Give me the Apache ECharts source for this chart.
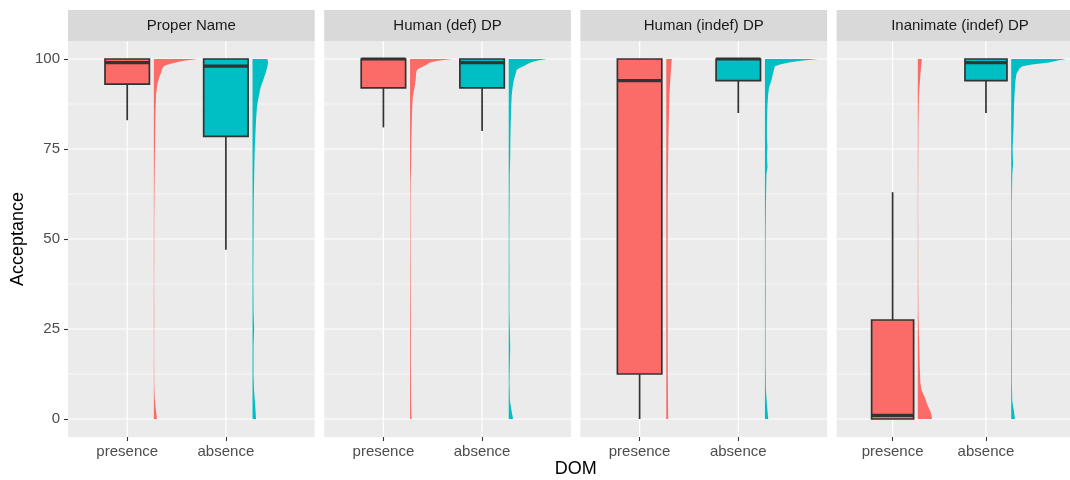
<!DOCTYPE html>
<html><head><meta charset="utf-8">
<script src="https://cdn.jsdelivr.net/npm/echarts@6/dist/echarts.min.js"></script>
<style>html,body{margin:0;padding:0;background:#fff}#c{width:1070px;height:480px}</style>
</head><body><div id="c"></div>
<script>
// ---------- data ----------
const panels = ['Proper Name', 'Human (def) DP', 'Human (indef) DP', 'Inanimate (indef) DP'];
const groups = ['presence', 'absence'];
const yTicks = [0, 25, 50, 75, 100];
const yMinor = [12.5, 37.5, 62.5, 87.5];
const yTitle = 'Acceptance';
const xTitle = 'DOM';
// box stats per panel: [lower whisker, Q1, median, Q3, upper whisker]
const boxPresence = [[83, 93, 99, 100, 100], [81, 92, 100, 100, 100], [0, 12.5, 94, 100, 100], [0, 0, 1, 27.5, 63]];
const boxAbsence  = [[47, 78.5, 98, 100, 100], [80, 92, 99, 100, 100], [85, 94, 100, 100, 100], [85, 94, 99, 100, 100]];
// half-violin density profiles per panel: [acceptance value, relative density]
const violinPresence = [
  [[100,44],[99.5,30],[99,22],[98.5,14],[98,10],[97,8],[96,7],[95,5.5],[93,3.5],[90,2.2],[85,1.6],[75,1.1],[65,0.7],[55,0.4],[45,0.4],[38,0.3],[30,0.4],[20,0.3],[10,0.4],[6,0.8],[3,1.8],[1,2.8],[0,3]],
  [[100,42],[99.5,28],[99,20],[98.3,16],[97.5,10],[97,7],[96,6],[94.5,5.8],[93.5,5.2],[92,4.5],[90,3],[87,2.2],[82,1.7],[77,1.3],[70,1],[66,0.6],[60,0.4],[45,0.5],[35,0.6],[25,0.8],[15,0.8],[5,1],[0,1.5]],
  [[100,5.5],[98,5],[95,4.2],[90,3.2],[80,2.3],[70,1.8],[60,1.5],[40,1.4],[20,1.5],[10,1.6],[0,2]],
  [[100,4.3],[98,3.5],[96,2.8],[93,2],[90,1.2],[80,0.6],[60,0.3],[40,0.4],[30,0.6],[25,1],[20,1.5],[15,2],[10,2.7],[8,4],[6,7.5],[4,10],[3,11.7],[2,13.5],[1,14.5],[0,15]]
];
const violinAbsence = [
  [[100,15],[99,15.5],[98,15],[96,13],[94,10.5],[92,8],[90,6.5],[87,4.5],[83,3.5],[80,3],[75,2.2],[70,1.8],[60,1.2],[50,1],[40,0.8],[30,1],[25,1.6],[20,1],[12,1],[8,1.5],[4,2.6],[1,3.3],[0,3.5]],
  [[100,38],[99.5,28],[99,22],[98.3,17],[97.5,11],[97,8],[96,7],[94,5],[92,3.8],[90,3],[87,2.5],[82,2],[77,1.6],[73,1.5],[68,1],[60,0.8],[50,0.6],[40,0.7],[30,0.6],[20,1.5],[10,0.7],[5,1.2],[2,3],[0,4.3]],
  [[100,53],[99.5,36],[99,24],[98.5,15],[98,10],[96,8],[94,6.5],[92,4],[90,3.2],[87,2.5],[82,2],[78,2],[75.5,2.5],[73,2],[70,2.6],[68,1.5],[60,1],[52,0.7],[45,0.6],[35,0.7],[25,0.6],[15,0.6],[8,1],[4,2],[0,3.3]],
  [[100,58],[99.5,48],[99,40],[98.5,22],[98,12],[97.4,9],[96,5.7],[94,4.5],[90,3.5],[86.7,3],[81,2.5],[75,1.5],[71,2],[68,1.2],[65,1],[60,0.6],[50,0.6],[40,0.7],[30,0.6],[20,0.7],[10,0.7],[5,1.2],[2,3],[0,4]]
];

// ---------- styles / layout ----------
const COLORS = ['#FB6C68', '#00BFC4'];
const FONT = '"Liberation Sans", Arial, Helvetica, sans-serif';
const PANEL_LEFT = 68, PANEL_STEP = 256.2, PANEL_W = 246.7, PANEL_TOP = 41, PANEL_H = 396;
const STRIP_TOP = 10, STRIP_H = 31;
const BOX_W = 0.45, VIOLIN_OFFSET = 0.27, DENS_SCALE = 1 / 98.7;
const X_MIN = 0.4, X_MAX = 2.9, Y_MIN = -5, Y_MAX = 105;
const STROKE = '#333333';

const chart = echarts.init(document.getElementById('c'), null, {renderer: 'canvas'});
const grids = [], xAxes = [], yAxes = [], series = [], graphics = [];

function gridRenderFactory(hMajor, hMinor, vLines) {
  return function (params, api) {
    if (params.dataIndex !== 0) return null;
    const cs = params.coordSys;
    const children = [];
    hMinor.forEach(function (v) {
      const y = api.coord([1, v])[1];
      children.push({type: 'line', shape: {x1: cs.x, y1: y, x2: cs.x + cs.width, y2: y}, style: {stroke: '#FFFFFF', lineWidth: 0.6}});
    });
    hMajor.forEach(function (v) {
      const y = api.coord([1, v])[1];
      children.push({type: 'line', shape: {x1: cs.x, y1: y, x2: cs.x + cs.width, y2: y}, style: {stroke: '#FFFFFF', lineWidth: 1.2}});
    });
    vLines.forEach(function (v) {
      const x = api.coord([v, 50])[0];
      children.push({type: 'line', shape: {x1: x, y1: cs.y, x2: x, y2: cs.y + cs.height}, style: {stroke: '#FFFFFF', lineWidth: 1.2}});
    });
    return {type: 'group', children: children};
  };
}

function boxRenderFactory(stats, gx, color) {
  return function (params, api) {
    if (params.dataIndex !== 0) return null;
    const lo = stats[0], q1 = stats[1], med = stats[2], q3 = stats[3], hi = stats[4];
    const pLo = api.coord([gx, lo]), pQ1 = api.coord([gx, q1]), pMed = api.coord([gx, med]);
    const pQ3 = api.coord([gx, q3]), pHi = api.coord([gx, hi]);
    const left = api.coord([gx - BOX_W / 2, q1])[0], right = api.coord([gx + BOX_W / 2, q1])[0];
    const children = [];
    if (q1 > lo) children.push({type: 'line', shape: {x1: pLo[0], y1: pLo[1], x2: pQ1[0], y2: pQ1[1]}, style: {stroke: STROKE, lineWidth: 1.7}});
    if (hi > q3) children.push({type: 'line', shape: {x1: pQ3[0], y1: pQ3[1], x2: pHi[0], y2: pHi[1]}, style: {stroke: STROKE, lineWidth: 1.7}});
    children.push({type: 'rect', shape: {x: left, y: pQ3[1], width: right - left, height: pQ1[1] - pQ3[1]},
      style: {fill: color, stroke: STROKE, lineWidth: 1.7}});
    children.push({type: 'line', shape: {x1: left, y1: pMed[1], x2: right, y2: pMed[1]}, style: {stroke: STROKE, lineWidth: 3.2}});
    return {type: 'group', children: children};
  };
}

function violinRenderFactory(profile, gx, color) {
  return function (params, api) {
    if (params.dataIndex !== 0) return null;
    const x0 = gx + VIOLIN_OFFSET;
    const pts = [api.coord([x0, profile[0][0]])];
    profile.forEach(function (r) { pts.push(api.coord([x0 + r[1] * DENS_SCALE, r[0]])); });
    pts.push(api.coord([x0, profile[profile.length - 1][0]]));
    return {type: 'polygon', shape: {points: pts}, style: {fill: color}};
  };
}

panels.forEach(function (name, i) {
  const left = PANEL_LEFT + i * PANEL_STEP;
  grids.push({left: left, top: PANEL_TOP, width: PANEL_W, height: PANEL_H,
    show: true, backgroundColor: '#EBEBEB', borderWidth: 0, containLabel: false});
  xAxes.push({gridIndex: i, type: 'value', min: X_MIN, max: X_MAX, position: 'bottom',
    axisLine: {show: false, onZero: false}, splitLine: {show: false},
    axisTick: {show: true, customValues: [1, 2], length: 4, lineStyle: {color: STROKE, width: 1.1}},
    axisLabel: {show: true, customValues: [1, 2], formatter: function (v) { return groups[Math.round(v) - 1]; },
      color: '#4D4D4D', fontSize: 15, fontFamily: FONT, margin: 7}});
  yAxes.push({gridIndex: i, type: 'value', min: Y_MIN, max: Y_MAX, position: 'left',
    axisLine: {show: false, onZero: false}, splitLine: {show: false},
    axisTick: {show: i === 0, customValues: yTicks, length: 4, lineStyle: {color: STROKE, width: 1.1}},
    axisLabel: {show: i === 0, customValues: yTicks, color: '#4D4D4D', fontSize: 15, fontFamily: FONT, margin: 8}});

  series.push({type: 'custom', xAxisIndex: i, yAxisIndex: i, z: 1, silent: true,
    renderItem: gridRenderFactory(yTicks, yMinor, [1, 2]), data: [[1, 50]]});

  [violinPresence[i], violinAbsence[i]].forEach(function (profile, g) {
    series.push({type: 'custom', xAxisIndex: i, yAxisIndex: i, z: 2, silent: true, clip: true,
      renderItem: violinRenderFactory(profile, g + 1, COLORS[g]),
      data: [[g + 1 + VIOLIN_OFFSET, 50]]});
  });

  [boxPresence[i], boxAbsence[i]].forEach(function (b, g) {
    series.push({type: 'custom', xAxisIndex: i, yAxisIndex: i, z: 3, silent: true,
      renderItem: boxRenderFactory(b, g + 1, COLORS[g]),
      data: [[g + 1, b[2]]]});
  });

  graphics.push({type: 'rect', left: left, top: STRIP_TOP, shape: {width: PANEL_W, height: STRIP_H},
    style: {fill: '#D9D9D9'}, silent: true});
  graphics.push({type: 'text', x: left + PANEL_W / 2, y: STRIP_TOP + STRIP_H / 2 + 0.5,
    style: {text: name, fill: '#1A1A1A', font: '15px ' + FONT, textAlign: 'center', textVerticalAlign: 'middle'}, silent: true});
});

graphics.push({type: 'text', x: 18, y: PANEL_TOP + PANEL_H / 2, rotation: Math.PI / 2,
  style: {text: yTitle, fill: '#000000', font: '18px ' + FONT, textAlign: 'center', textVerticalAlign: 'middle'}, silent: true});
graphics.push({type: 'text', x: PANEL_LEFT + (3 * PANEL_STEP + PANEL_W) / 2, y: 469,
  style: {text: xTitle, fill: '#000000', font: '18px ' + FONT, textAlign: 'center', textVerticalAlign: 'middle'}, silent: true});

chart.setOption({
  animation: false,
  backgroundColor: '#FFFFFF',
  textStyle: {fontFamily: FONT},
  grid: grids, xAxis: xAxes, yAxis: yAxes, series: series, graphic: graphics
});
</script></body></html>
